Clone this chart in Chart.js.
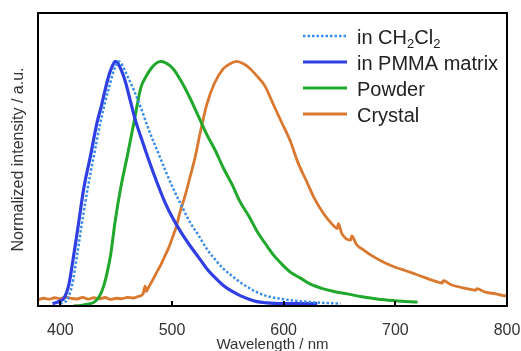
<!DOCTYPE html>
<html>
<head>
<meta charset="utf-8">
<script src="https://cdn.jsdelivr.net/npm/chart.js@4.4.0/dist/chart.umd.min.js"></script>
<style>
    body { margin: 0; background: #ffffff; }
    canvas { display: block; }
</style>
</head>
<body>
<canvas id="spectraChart" width="521" height="351"></canvas>
<script>
// wavelength ticks on the x axis
const xTicks = [400, 500, 600, 700, 800];

// in CH2Cl2 (dotted)
const dcmWl = [400, 403, 406, 410.5, 415, 419.5, 424.5, 430, 436, 440, 443.5, 447, 450, 452, 454, 457, 461, 466, 472, 479, 487, 494, 501, 509, 516, 524, 531, 539, 546, 554, 561, 569, 576, 586, 597, 610, 625, 640, 651];
const dcmI  = [0, 0.005, 0.015, 0.075, 0.2, 0.337, 0.476, 0.61, 0.75, 0.83, 0.89, 0.95, 0.985, 1.0, 0.995, 0.97, 0.93, 0.88, 0.81, 0.72, 0.63, 0.55, 0.476, 0.4, 0.337, 0.28, 0.227, 0.18, 0.144, 0.113, 0.088, 0.065, 0.047, 0.03, 0.02, 0.012, 0.006, 0.002, 0];

// in PMMA matrix
const pmmaWl = [393, 397, 400, 403, 407.5, 412, 416.5, 421, 427, 433, 437, 440.5, 444, 447, 449, 451, 454, 458, 462, 467, 472, 479, 487, 494, 501, 508, 516, 524, 531, 539, 546, 554, 561, 569, 576, 585, 597, 610, 630];
const pmmaI  = [0, 0.005, 0.012, 0.02, 0.075, 0.2, 0.337, 0.476, 0.61, 0.75, 0.82, 0.89, 0.95, 0.985, 1.0, 0.995, 0.97, 0.92, 0.85, 0.76, 0.69, 0.595, 0.495, 0.415, 0.35, 0.295, 0.24, 0.19, 0.145, 0.105, 0.075, 0.05, 0.033, 0.018, 0.008, 0.003, 0, 0, 0];

// Powder
const powderWl = [412, 418, 424, 430, 435, 439, 442, 445, 449, 454, 460, 466, 472, 477, 482, 486, 489.5, 494, 501, 508, 516, 524, 531, 539, 546, 554, 561, 569, 576, 584, 591, 599, 606, 615, 624, 634, 645, 657, 670, 685, 700, 720];
const powderI  = [-0.01, -0.008, -0.003, 0.005, 0.03, 0.075, 0.13, 0.2, 0.337, 0.476, 0.61, 0.75, 0.89, 0.94, 0.975, 0.993, 1.0, 0.995, 0.97, 0.92, 0.85, 0.77, 0.7, 0.63, 0.56, 0.49, 0.42, 0.36, 0.3, 0.245, 0.2, 0.16, 0.13, 0.105, 0.08, 0.063, 0.05, 0.04, 0.028, 0.018, 0.012, 0.006];

// Crystal
const crystalWl = [380, 385, 390, 395, 400, 405, 410, 415, 420, 425, 430, 435, 440, 445, 450, 455, 460, 465, 470, 474, 476, 477, 478, 480, 483, 487, 490, 493, 497, 501, 504, 507, 512, 516, 521, 525, 531, 538, 546, 552, 558, 564, 570, 576, 583, 591, 598, 606, 613, 621, 628, 636, 643, 648, 649, 652, 660, 661, 665, 672, 680, 690, 700, 705, 713, 722, 734, 742, 743, 750, 764, 772, 773, 780, 790, 797, 800];
const crystalI  = [0.015, 0.022, 0.018, 0.024, 0.02, 0.027, 0.021, 0.019, 0.026, 0.018, 0.024, 0.02, 0.025, 0.017, 0.022, 0.02, 0.026, 0.023, 0.03, 0.04, 0.072, 0.05, 0.058, 0.075, 0.1, 0.135, 0.16, 0.19, 0.23, 0.28, 0.32, 0.375, 0.45, 0.52, 0.61, 0.7, 0.82, 0.91, 0.97, 0.99, 1.0, 0.99, 0.97, 0.94, 0.9, 0.82, 0.75, 0.67, 0.58, 0.5, 0.43, 0.37, 0.33, 0.31, 0.33, 0.29, 0.262, 0.28, 0.245, 0.22, 0.195, 0.17, 0.15, 0.142, 0.13, 0.115, 0.095, 0.085, 0.095, 0.078, 0.062, 0.055, 0.062, 0.048, 0.04, 0.033, 0.032];

const seriesLabels = ['in CH₂Cl₂', 'in PMMA matrix', 'Powder', 'Crystal'];

function toPoints(xs, ys) {
    return xs.map((x, i) => ({x: x, y: ys[i]}));
}

// legend inside the plot, frame and inward ticks
const framePlugin = {
    id: 'frame',
    afterDraw(chart) {
        const ctx = chart.ctx;
        const area = chart.chartArea;
        const xScale = chart.scales.x;
        ctx.save();

        // inward tick marks
        ctx.strokeStyle = '#000000';
        ctx.lineWidth = 2;
        xTicks.forEach(v => {
            const px = Math.round(xScale.getPixelForValue(v));
            ctx.beginPath();
            ctx.moveTo(px, area.bottom);
            ctx.lineTo(px, area.bottom - 5);
            ctx.stroke();
        });

        // plot box
        ctx.lineWidth = 2;
        ctx.strokeRect(area.left, area.top, area.right - area.left, area.bottom - area.top);

        // legend
        const lx0 = 303, lx1 = 347, tx = 357;
        const rowY = [36, 62, 88, 114];
        chart.data.datasets.forEach((ds, i) => {
            const y = rowY[i];
            ctx.strokeStyle = ds.borderColor;
            ctx.lineWidth = ds.borderWidth;
            ctx.setLineDash(ds.borderDash || []);
            ctx.beginPath();
            ctx.moveTo(lx0, y);
            ctx.lineTo(lx1, y);
            ctx.stroke();
            ctx.setLineDash([]);
            drawLabel(ctx, ds.label, tx, y + 2);
        });
        ctx.restore();
    }
};

// draws text, turning subscript digits into small lowered digits
function drawLabel(ctx, text, x, y) {
    const subs = '₀₁₂₃₄₅₆₇₈₉';
    ctx.fillStyle = '#222222';
    ctx.textBaseline = 'middle';
    ctx.textAlign = 'left';
    for (const ch of text) {
        const k = subs.indexOf(ch);
        if (k >= 0) {
            ctx.font = '13px "Liberation Sans", Arial, sans-serif';
            ctx.fillText(String(k), x, y + 6);
            x += ctx.measureText(String(k)).width;
        } else {
            ctx.font = '20px "Liberation Sans", Arial, sans-serif';
            ctx.fillText(ch, x, y);
            x += ctx.measureText(ch).width;
        }
    }
}

document.addEventListener('DOMContentLoaded', function() {
    const ctx = document.getElementById('spectraChart').getContext('2d');
    new Chart(ctx, {
        type: 'line',
        data: {
            datasets: [
                {
                    label: seriesLabels[0],
                    data: toPoints(dcmWl, dcmI),
                    borderColor: '#3b8ee8',
                    borderWidth: 2.5,
                    borderDash: [2.5, 2],
                    cubicInterpolationMode: 'monotone'
                },
                {
                    label: seriesLabels[1],
                    data: toPoints(pmmaWl, pmmaI),
                    borderColor: '#2f3fe3',
                    borderWidth: 3.2,
                    cubicInterpolationMode: 'monotone'
                },
                {
                    label: seriesLabels[2],
                    data: toPoints(powderWl, powderI),
                    borderColor: '#1fa82b',
                    borderWidth: 3,
                    cubicInterpolationMode: 'monotone'
                },
                {
                    label: seriesLabels[3],
                    data: toPoints(crystalWl, crystalI),
                    borderColor: '#d9782e',
                    borderWidth: 2.8,
                    cubicInterpolationMode: 'monotone'
                }
            ]
        },
        options: {
            responsive: false,
            animation: false,
            devicePixelRatio: 1,
            layout: {
                padding: {left: 0, right: 14, top: 13, bottom: 0}
            },
            elements: {
                point: { radius: 0 }
            },
            scales: {
                x: {
                    type: 'linear',
                    min: 380,
                    max: 800,
                    afterBuildTicks: s => { s.ticks = xTicks.map(v => ({value: v})); },
                    afterFit: s => {
                        s.height = 45;
                        s.paddingLeft = 0;
                        s.paddingRight = 0;
                    },
                    grid: { display: false },
                    border: { display: false },
                    ticks: {
                        padding: 7,
                        color: '#333333',
                        maxRotation: 0,
                        font: { family: '"Liberation Sans", Arial, sans-serif', size: 16 }
                    },
                    title: {
                        display: true,
                        text: 'Wavelength / nm',
                        color: '#333333',
                        padding: 0,
                        font: { family: '"Liberation Sans", Arial, sans-serif', size: 15, lineHeight: 0.8 }
                    }
                },
                y: {
                    min: -0.01,
                    max: 1.2,
                    afterFit: s => { s.width = 38; },
                    grid: { display: false },
                    border: { display: false },
                    ticks: { display: false },
                    title: {
                        display: true,
                        text: 'Normalized intensity / a.u.',
                        color: '#333333',
                        padding: { top: 9, bottom: 0 },
                        font: { family: '"Liberation Sans", Arial, sans-serif', size: 16 }
                    }
                }
            },
            plugins: {
                legend: { display: false },
                tooltip: { enabled: false }
            }
        },
        plugins: [framePlugin]
    });
});
</script>
</body>
</html>
